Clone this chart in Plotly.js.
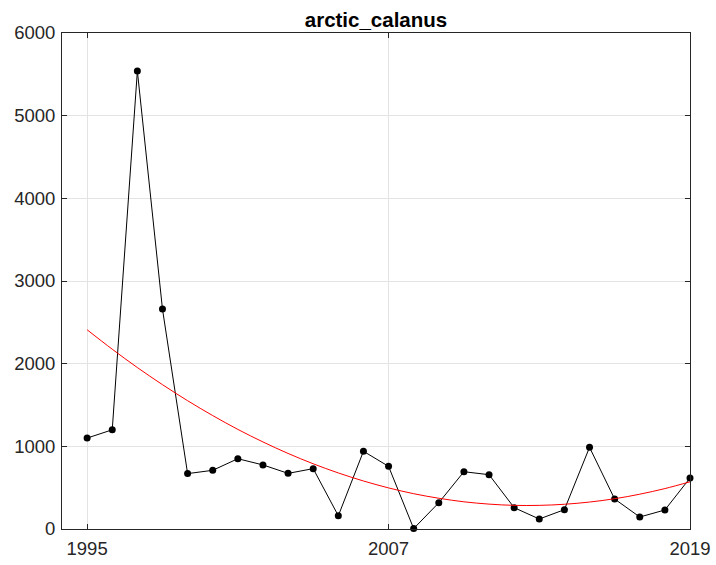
<!DOCTYPE html>
<html>
<head>
<meta charset="utf-8">
<script src="https://cdn.plot.ly/plotly-3.0.1.min.js"></script>
<style>html,body{margin:0;padding:0;background:#fff;}#chart{width:716px;height:565px;}</style>
</head>
<body>
<div id="chart"></div>
<script>
const years = [1995,1996,1997,1998,1999,2000,2001,2002,2003,2004,2005,2006,2007,2008,2009,2010,2011,2012,2013,2014,2015,2016,2017,2018,2019];
const abundance = [1100,1200,5540,2660,670,710,850,775,673,730,160,940,758,5,318,693,657,258,121,234,988,363,145,230,617];
const trend = [2410,2175,1953,1746,1552,1372,1205,1053,914,789,678,581,497,427,372,329,301,286,286,299,326,366,421,489,571];
const xTicks = [1995,2007,2019];
const yTicks = [0,1000,2000,3000,4000,5000,6000];
const chartTitle = 'arctic_calanus';

const axisColor = '#262626';
const fontFam = 'Liberation Sans, Arial, Helvetica, sans-serif';

const traces = [
  {x: years, y: abundance, type: 'scatter', mode: 'lines+markers',
   line: {color: '#000000', width: 1}, marker: {color: '#000000', size: 7},
   cliponaxis: false, showlegend: false, hoverinfo: 'x+y'},
  {x: years, y: trend, type: 'scatter', mode: 'lines',
   line: {color: '#ff0000', width: 1, shape: 'spline'}, showlegend: false}
];

const layout = {
  width: 716, height: 565,
  margin: {l: 62, r: 26, t: 33, b: 36, pad: 0},
  paper_bgcolor: '#ffffff', plot_bgcolor: '#ffffff',
  font: {family: fontFam, size: 18.5, color: axisColor},
  title: {text: '<b>' + chartTitle + '</b>', font: {family: fontFam, size: 20.5, color: '#000000'},
          x: 0.5, xref: 'paper', y: 1, yref: 'paper', yanchor: 'bottom', pad: {b: 6}},
  xaxis: {range: [1994, 2019], tickvals: xTicks, ticktext: xTicks.map(String),
          showgrid: true, gridcolor: '#e3e3e3', gridwidth: 1, zeroline: false,
          showline: true, linecolor: axisColor, linewidth: 1, mirror: 'ticks',
          ticks: 'inside', ticklen: 5, tickcolor: axisColor, ticklabelstandoff: 3,
          tickfont: {size: 18.5, color: axisColor}},
  yaxis: {range: [0, 6000], tickvals: yTicks, ticktext: yTicks.map(String),
          showgrid: true, gridcolor: '#e3e3e3', gridwidth: 1, zeroline: false,
          showline: true, linecolor: axisColor, linewidth: 1, mirror: 'ticks',
          ticks: 'inside', ticklen: 5, tickcolor: axisColor, ticklabelstandoff: 2,
          tickfont: {size: 18.5, color: axisColor}}
};

Plotly.newPlot('chart', traces, layout, {displayModeBar: false, staticPlot: true});
</script>
</body>
</html>
